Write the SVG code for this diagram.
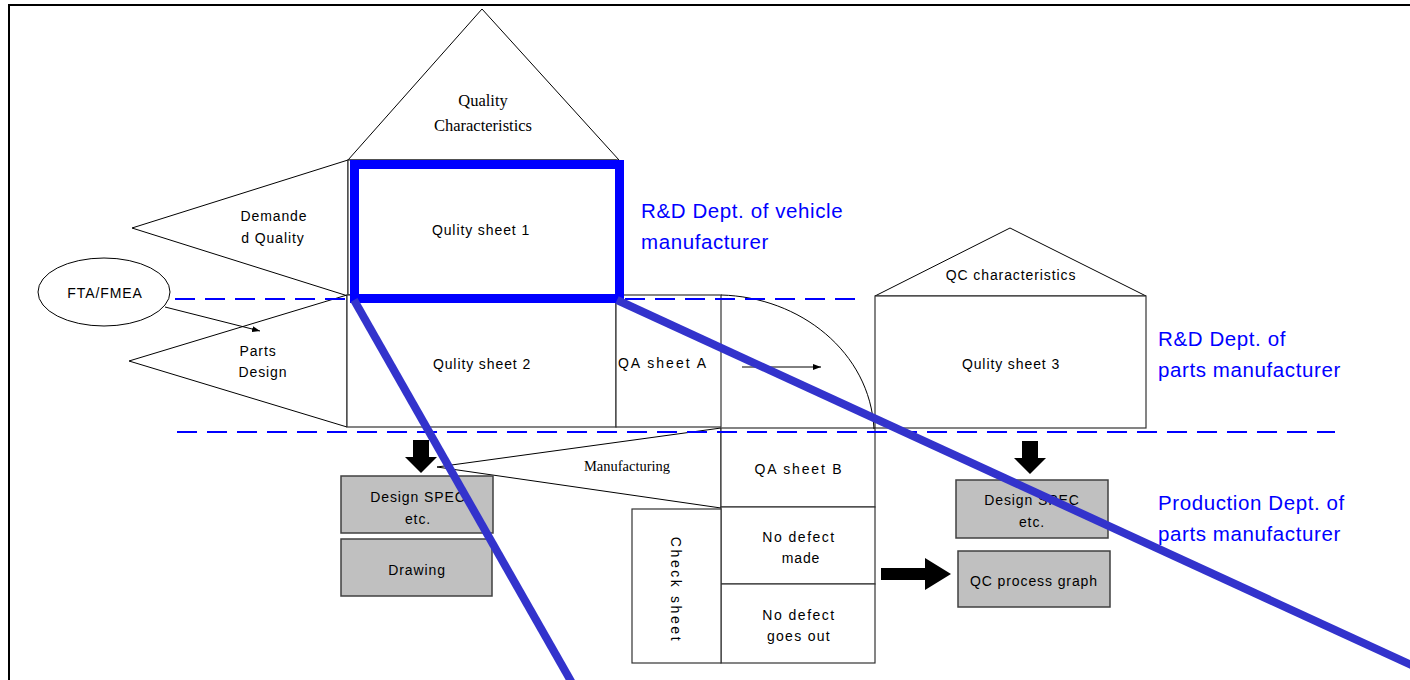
<svg xmlns="http://www.w3.org/2000/svg" width="1410" height="680" viewBox="0 0 1410 680">
<style>
.ln{fill:none;stroke:#000;stroke-width:1}
.bx{fill:#fff;stroke:#333;stroke-width:1.2}
.gb{fill:#c0c0c0;stroke:#404040;stroke-width:1.5}
.t{font-family:"Liberation Sans",Arial,sans-serif;font-size:14px;fill:#000;text-anchor:middle;letter-spacing:0.9px}
.s{font-family:"Liberation Serif","Times New Roman",serif;fill:#000;text-anchor:middle}
.b{font-family:"Liberation Sans",Arial,sans-serif;font-size:20.5px;fill:#0000ff;letter-spacing:0.6px}
.dash{fill:none;stroke:#0000ff;stroke-width:2;stroke-dasharray:20,10}
.diag{fill:none;stroke:#3333cc;stroke-width:8}
</style>
<defs>
<marker id="ah" markerWidth="8" markerHeight="6" refX="8" refY="3" orient="auto" markerUnits="userSpaceOnUse"><path d="M0,0 L8,3 L0,6 Z" fill="#000"/></marker>
</defs>
<rect width="1410" height="680" fill="#fff"/>
<rect x="9" y="5" width="1420" height="700" fill="none" stroke="#000" stroke-width="2"/>

<g id="quality-characteristics">
<polygon points="348,160 482,9 619,160" class="ln"/>
<text class="s" font-size="16.5" x="483" y="106">Quality</text>
<text class="s" font-size="16.5" x="483" y="131">Characteristics</text>
</g>

<g id="demanded-quality">
<polygon points="348,160 132,228 348,296" class="ln"/>
<text class="t" x="274" y="221">Demande</text>
<text class="t" x="273" y="243">d Quality</text>
</g>

<g id="quality-sheet-1">
<rect x="348" y="160" width="268" height="135" class="bx"/>
<text class="t" x="481" y="235">Qulity sheet 1</text>
</g>

<g id="fta-fmea">
<ellipse cx="104" cy="292" rx="66" ry="34" class="ln"/>
<text class="t" x="105" y="298">FTA/FMEA</text>
</g>

<g id="parts-design">
<polygon points="347,295 129,361 347,427" class="ln"/>
<text class="t" x="258" y="356">Parts</text>
<text class="t" x="263" y="377">Design</text>
</g>

<g id="quality-sheet-2">
<rect x="347" y="295" width="269" height="132" class="bx"/>
<text class="t" x="482" y="369">Qulity sheet 2</text>
</g>

<g id="qa-sheet-a">
<rect x="616" y="295" width="105" height="132" class="bx"/>
<text class="t" x="663" y="368" style="letter-spacing:2px">QA sheet A</text>
</g>

<g id="qc-characteristics">
<polygon points="875,296 1010,228 1146,296" class="ln"/>
<text class="t" x="1011" y="280">QC characteristics</text>
</g>

<g id="quality-sheet-3">
<rect x="875" y="296" width="271" height="132" class="bx"/>
<text class="t" x="1011" y="369">Qulity sheet 3</text>
</g>

<g id="manufacturing">
<polygon points="437,467 721,428 721,508" class="ln"/>
<text class="s" font-size="14.5" x="627" y="471">Manufacturing</text>
</g>

<g id="qa-sheet-b">
<rect x="721" y="428" width="154" height="79" class="bx"/>
<text class="t" x="799" y="474" style="letter-spacing:1.8px">QA sheet B</text>
</g>

<g id="no-defect-made">
<rect x="721" y="507" width="154" height="77" class="bx"/>
<text class="t" x="799" y="542" style="letter-spacing:1.5px">No defect</text>
<text class="t" x="801" y="563">made</text>
</g>

<g id="no-defect-goes-out">
<rect x="721" y="584" width="154" height="79" class="bx"/>
<text class="t" x="799" y="620" style="letter-spacing:1.5px">No defect</text>
<text class="t" x="799" y="641" style="letter-spacing:1.3px">goes out</text>
</g>

<g id="check-sheet">
<rect x="632" y="509" width="89" height="154" class="bx"/>
<text class="t" x="676" y="590" dominant-baseline="central" transform="rotate(90 676 590)" style="letter-spacing:2.6px">Check sheet</text>
</g>

<g id="design-spec-1">
<rect x="341" y="476" width="152" height="57" class="gb"/>
<text class="t" x="418" y="502">Design SPEC</text>
<text class="t" x="418" y="524">etc.</text>
</g>

<g id="drawing">
<rect x="341" y="539" width="151" height="57" class="gb"/>
<text class="t" x="417" y="575">Drawing</text>
</g>

<g id="design-spec-2">
<rect x="956" y="480" width="152" height="58" class="gb"/>
<text class="t" x="1032" y="505">Design SPEC</text>
<text class="t" x="1032" y="527">etc.</text>
</g>

<g id="qc-process-graph">
<rect x="958" y="551" width="152" height="56" class="gb"/>
<text class="t" x="1034" y="586">QC process graph</text>
</g>

<g id="labels">
<text class="b" x="641" y="218">R&amp;D Dept. of vehicle</text>
<text class="b" x="641" y="249">manufacturer</text>
<text class="b" x="1158" y="346">R&amp;D Dept. of</text>
<text class="b" x="1158" y="377">parts manufacturer</text>
<text class="b" x="1158" y="510">Production Dept. of</text>
<text class="b" x="1158" y="541">parts manufacturer</text>
</g>

<g id="connectors">
<line x1="165" y1="307" x2="260" y2="331" class="ln" stroke-width="1.3" marker-end="url(#ah)"/>
<line x1="742" y1="367" x2="821" y2="367" class="ln" stroke-width="1.3" marker-end="url(#ah)"/>
<path d="M721,295 C800,297 870,352 874,429" class="ln"/>
<polygon points="413,440 429,440 429,457 437,457 421,473 405,457 413,457" fill="#000"/>
<polygon points="1022,441 1038,441 1038,458 1046,458 1030,474 1014,458 1022,458" fill="#000"/>
<polygon points="881,568 925,568 925,558 951,574 925,590 925,580 881,580" fill="#000"/>
<line x1="175" y1="299" x2="857" y2="299" class="dash"/>
<line x1="177" y1="432" x2="1335" y2="432" class="dash"/>
</g>

<g id="highlight">
<rect x="354.5" y="164.5" width="265" height="134" fill="none" stroke="#0000ff" stroke-width="9"/>
<line x1="354" y1="300" x2="576" y2="690" class="diag"/>
<line x1="617" y1="300" x2="1420" y2="669" class="diag"/>
</g>
</svg>
